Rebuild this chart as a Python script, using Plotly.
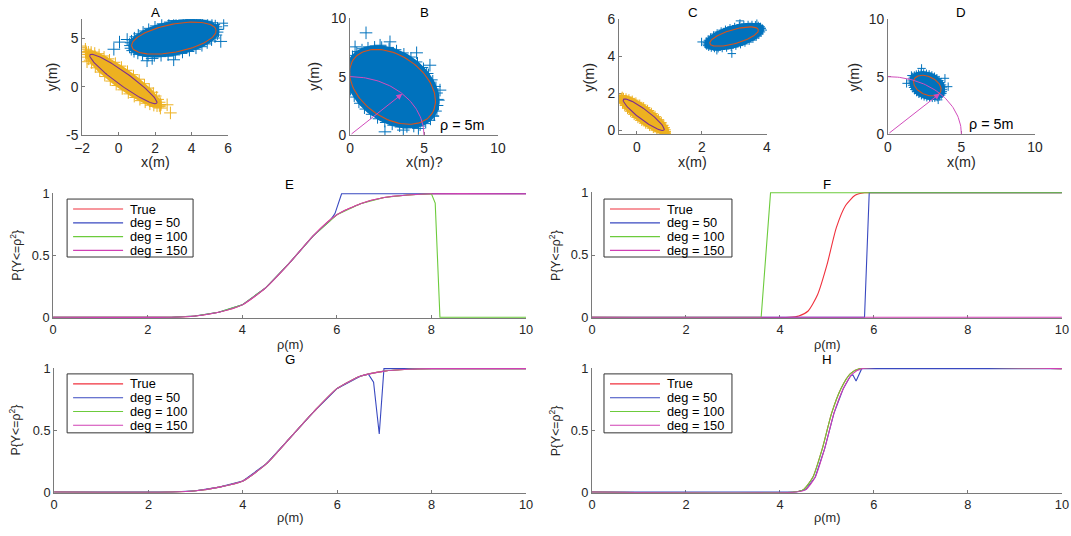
import numpy as np
import plotly.graph_objects as go

W, H = 1071, 536

# ---------------- CDF curves (rho in m -> P{Y<=rho^2}) ----------------
E_true_rho = [0, 2.5, 3.0, 3.5, 4.0, 4.5, 5.0, 5.5, 6.0, 6.5, 7.0, 7.5, 8.0, 10]
E_true_p   = [0, 0, 0.01, 0.04, 0.10, 0.24, 0.44, 0.66, 0.83, 0.92, 0.97, 0.99, 1.0, 1.0]
E_d50_rho  = [0, 2.5, 3.0, 3.5, 4.0, 4.5, 5.0, 5.5, 5.85, 5.96, 6.1, 10]
E_d50_p    = [0, 0, 0.01, 0.04, 0.10, 0.24, 0.44, 0.66, 0.78, 0.84, 1.0, 1.0]
E_d100_rho = [0, 2.5, 3.0, 3.5, 4.0, 4.5, 5.0, 5.5, 6.0, 6.5, 7.0, 7.5, 8.0, 8.08, 8.18, 10]
E_d100_p   = [0, 0, 0.01, 0.04, 0.10, 0.24, 0.44, 0.66, 0.83, 0.92, 0.97, 0.99, 1.0, 0.925, 0.0, 0.0]
E_d150_rho = [0, 2.5, 3.0, 3.5, 4.0, 4.5, 5.0, 5.5, 6.0, 6.5, 7.0, 7.5, 8.0, 10]
E_d150_p   = [0, 0, 0.01, 0.04, 0.10, 0.24, 0.44, 0.66, 0.83, 0.92, 0.97, 0.99, 1.0, 1.0]

F_true_rho = [0, 4.2, 4.4, 4.6, 4.8, 5.0, 5.2, 5.4, 5.6, 5.8, 5.9, 10]
F_true_p   = [0, 0, 0.01, 0.05, 0.18, 0.42, 0.72, 0.90, 0.98, 1.0, 1.0, 1.0]
F_d50_rho  = [0, 5.8, 5.9, 10]
F_d50_p    = [0, 0, 1.0, 1.0]
F_d100_rho = [0, 3.6, 3.8, 10]
F_d100_p   = [0, 0, 1.0, 1.0]
F_d150_rho = [0, 10]
F_d150_p   = [0, 0]

G_true_rho = [0, 2.5, 3.0, 3.5, 4.0, 4.5, 5.0, 5.5, 6.0, 6.5, 7.0, 7.5, 8.0, 10]
G_true_p   = [0, 0, 0.01, 0.04, 0.09, 0.23, 0.44, 0.65, 0.84, 0.94, 0.98, 0.995, 1.0, 1.0]
G_d50_rho  = [0, 2.5, 3.0, 3.5, 4.0, 4.5, 5.0, 5.5, 6.0, 6.5, 6.66, 6.77, 6.89, 6.99, 10]
G_d50_p    = [0, 0, 0.01, 0.04, 0.09, 0.23, 0.44, 0.65, 0.84, 0.94, 0.955, 0.89, 0.47, 1.0, 1.0]
G_d100_rho = [0, 2.5, 3.0, 3.5, 4.0, 4.5, 5.0, 5.5, 6.0, 6.5, 7.0, 7.5, 8.0, 10]
G_d100_p   = [0, 0, 0.01, 0.04, 0.09, 0.23, 0.44, 0.65, 0.84, 0.94, 0.98, 0.995, 1.0, 1.0]
G_d150_rho = [0, 2.5, 3.0, 3.5, 4.0, 4.5, 5.0, 5.5, 6.0, 6.5, 7.0, 7.5, 8.0, 10]
G_d150_p   = [0, 0, 0.01, 0.04, 0.09, 0.23, 0.44, 0.65, 0.84, 0.94, 0.98, 0.995, 1.0, 1.0]

H_true_rho = [0, 4.3, 4.5, 4.7, 4.9, 5.1, 5.3, 5.5, 5.7, 10]
H_true_p   = [0, 0, 0.02, 0.12, 0.35, 0.64, 0.84, 0.96, 1.0, 1.0]
H_d50_rho  = [0, 4.35, 4.55, 4.75, 4.95, 5.15, 5.35, 5.5, 5.55, 5.62, 5.74, 10]
H_d50_p    = [0, 0, 0.02, 0.12, 0.35, 0.64, 0.84, 0.94, 0.95, 0.90, 1.0, 1.0]
H_d100_rho = [0, 4.3, 4.5, 4.7, 4.9, 5.1, 5.3, 5.5, 5.7, 10]
H_d100_p   = [0, 0, 0.02, 0.12, 0.35, 0.64, 0.84, 0.96, 1.0, 1.0]
H_d150_rho = [0, 4.35, 4.55, 4.75, 4.95, 5.15, 5.35, 5.55, 5.75, 10]
H_d150_p   = [0, 0, 0.02, 0.12, 0.35, 0.64, 0.84, 0.96, 1.0, 1.0]

SERIES_NAMES = ["True", "deg = 50", "deg = 100", "deg = 150"]

# ---------------- position clouds (ellipse: center, half-axis vectors) ----------------
A_blue_center = [3.03, 5.04]; A_blue_u = [2.31, 0.86];  A_blue_v = [0.148, -1.42]
A_blue_env_u = [2.45, 0.91]; A_blue_env_v = [0.178, -1.70]
A_blue_out_x = [-0.26, 0.05, 0.47, 1.56, 1.84, 3.02, 6.13, 6.4, 5.76, 5.6, 4.48, 3.02]
A_blue_out_y = [3.89, 4.63, 4.9, 2.7, 2.94, 2.8, 6.32, 5.57, 6.59, 4.7, 7.09, 6.86]

A_yel_center = [0.26, 0.81]; A_yel_u = [1.83, -2.5]; A_yel_v = [-0.21, -0.54]
A_yel_env_u = [2.05, -2.8]; A_yel_env_v = [-0.31, -0.79]
A_yel_out_x = [-2.09, -1.82, -2.18, 2.66, 2.84, 2.29, 1.9, -1.73]
A_yel_out_y = [4.22, 3.89, 4.05, -1.86, -2.7, -2.2, -1.3, 2.6]

B_center = [2.87, 4.13]; B_u = [2.64, -2.34]; B_v = [-1.21, -2.19]
B_env_u = [2.82, -2.50]; B_env_v = [-1.36, -2.45]
B_out_x = [1.08, 2.36, 4.5, 5.18, 6.08, 5.97, 5.4, 0.34, 2.03, 2.7, 4.62, 3.6]
B_out_y = [8.75, 0.28, 7.04, 5.27, 3.85, 2.99, 5.98, 7.55, 7.69, 7.98, 0.57, 0.43]

C_blue_center = [2.99, 5.06]; C_blue_u = [0.745, 0.378]; C_blue_v = [0.06, -0.364]
C_blue_env_u = [0.887, 0.45]; C_blue_env_v = [0.09, -0.546]
C_blue_out_x = [1.99, 4.09, 3.17, 2.92, 2.46, 3.69]
C_blue_out_y = [4.77, 5.41, 5.91, 4.14, 4.32, 5.77]

C_yel_center = [0.21, 0.83]; C_yel_u = [0.625, -0.827]; C_yel_v = [-0.093, -0.216]
C_yel_env_u = [0.738, -0.976]; C_yel_env_v = [-0.149, -0.346]
C_yel_out_x = [-0.52, 0.92, -0.45, 0.75]
C_yel_out_y = [1.62, -0.18, 1.85, -0.1]

D_center = [2.68, 4.22]; D_u = [0.90, -0.54]; D_v = [-0.26, -0.72]
D_env_u = [1.11, -0.664]; D_env_v = [-0.356, -0.986]
D_out_x = [1.27, 4.1, 2.29, 3.42, 3.88, 1.6]
D_out_y = [4.42, 4.13, 5.72, 2.98, 4.86, 5.1]

RHO = 5.0          # radius of the reference circle (m)
ARROW_DEG = 45.0   # direction of the radius arrow

# ---------------- styles ----------------
FONT = "Liberation Sans, Arial, Helvetica, sans-serif"
BLUE = "#0072BD"; YEL = "#EDB120"; ORANGE = "#D95319"; PURPLE = "#7E2F8E"
MAG = "#D24DBC"
CURVE_COLORS = ["#F0303C", "#3848C0", "#6CCB3C", "#D040B4"]
AX_COLOR = "#7a7a7a"; TXT = "#262626"

# the photographed page maps figure pixel p to (p + 8) * scale; compensate
SX = 1087 / 1071
SY = 552 / 536
FS = 1.025  # font compensation for the slight downscale


def fs(v):
    return round(v * FS, 2)


def ellipse(c, u, v, n=120):
    t = np.linspace(0, 2 * np.pi, n)
    return (c[0] + u[0] * np.cos(t) + v[0] * np.sin(t),
            c[1] + u[1] * np.cos(t) + v[1] * np.sin(t))


def px2x(T):
    return (T * SX - 8) / W


def px2y(T):
    return 1 - (T * SY - 8) / H


fig = go.Figure()

# axis boxes in target pixels: (left, right, top, bottom)
boxes = {
    1: (82, 228, 19, 135), 2: (350, 498, 18, 135), 3: (619, 767, 19, 134), 4: (888, 1035, 19, 134),
    5: (53, 526, 193, 318), 6: (592, 1062, 192, 318), 7: (54, 526, 368, 493), 8: (592, 1062, 368, 493),
}


def axname(i, a):
    return a if i == 1 else f"{a}{i}"


def add_cloud(i, c, env_u, env_v, u, v, ox, oy, col, ecol, msize):
    xa, ya = axname(i, "x"), axname(i, "y")
    ex, ey = ellipse(c, env_u, env_v, 120)
    fig.add_trace(go.Scatter(x=ex, y=ey, mode="lines", fill="toself", fillcolor=col,
                             line=dict(color=col, width=1.5),
                             xaxis=xa, yaxis=ya, showlegend=False, hoverinfo="skip"))
    bx, by = ellipse(c, env_u, env_v, 40)
    fig.add_trace(go.Scatter(x=bx, y=by, mode="markers",
                             marker=dict(symbol="cross-thin", size=msize - 2, line=dict(color=col, width=1)),
                             xaxis=xa, yaxis=ya, showlegend=False, hoverinfo="skip"))
    fig.add_trace(go.Scatter(x=ox, y=oy, mode="markers",
                             marker=dict(symbol="cross-thin", size=msize, line=dict(color=col, width=1)),
                             xaxis=xa, yaxis=ya, showlegend=False, hoverinfo="skip"))
    lx, ly = ellipse(c, u, v)
    fig.add_trace(go.Scatter(x=lx, y=ly, mode="lines", line=dict(color=ecol, width=1.1),
                             xaxis=xa, yaxis=ya, showlegend=False, hoverinfo="skip"))


add_cloud(1, A_blue_center, A_blue_env_u, A_blue_env_v, A_blue_u, A_blue_v,
          A_blue_out_x, A_blue_out_y, BLUE, ORANGE, 9)
add_cloud(1, A_yel_center, A_yel_env_u, A_yel_env_v, A_yel_u, A_yel_v,
          A_yel_out_x, A_yel_out_y, YEL, PURPLE, 9)
add_cloud(2, B_center, B_env_u, B_env_v, B_u, B_v, B_out_x, B_out_y, BLUE, ORANGE, 9)
add_cloud(3, C_blue_center, C_blue_env_u, C_blue_env_v, C_blue_u, C_blue_v,
          C_blue_out_x, C_blue_out_y, BLUE, ORANGE, 6)
add_cloud(3, C_yel_center, C_yel_env_u, C_yel_env_v, C_yel_u, C_yel_v,
          C_yel_out_x, C_yel_out_y, YEL, PURPLE, 6)
add_cloud(4, D_center, D_env_u, D_env_v, D_u, D_v, D_out_x, D_out_y, BLUE, ORANGE, 6)

annotations = []
shapes = []
for i in (2, 4):
    xa, ya = axname(i, "x"), axname(i, "y")
    th = np.linspace(0, np.pi / 2, 60)
    fig.add_trace(go.Scatter(x=RHO * np.cos(th), y=RHO * np.sin(th), mode="lines",
                             line=dict(color=MAG, width=1), xaxis=xa, yaxis=ya,
                             showlegend=False, hoverinfo="skip"))
    tipx = RHO * np.cos(np.radians(ARROW_DEG))
    tipy = RHO * np.sin(np.radians(ARROW_DEG))
    annotations.append(dict(x=tipx, y=tipy, ax=0, ay=0, xref=xa, yref=ya, axref=xa, ayref=ya,
                            text="", showarrow=True, arrowhead=2, arrowsize=1.2, arrowwidth=1,
                            arrowcolor=MAG))
    annotations.append(dict(x=5.95 if i == 2 else 5.35, y=0.85, xref=xa, yref=ya, text="ρ = 5m",
                            showarrow=False, xanchor="left", yanchor="middle",
                            font=dict(family=FONT, size=fs(14), color="#000")))

curves = {
    5: [(E_true_rho, E_true_p), (E_d50_rho, E_d50_p), (E_d100_rho, E_d100_p), (E_d150_rho, E_d150_p)],
    6: [(F_true_rho, F_true_p), (F_d50_rho, F_d50_p), (F_d100_rho, F_d100_p), (F_d150_rho, F_d150_p)],
    7: [(G_true_rho, G_true_p), (G_d50_rho, G_d50_p), (G_d100_rho, G_d100_p), (G_d150_rho, G_d150_p)],
    8: [(H_true_rho, H_true_p), (H_d50_rho, H_d50_p), (H_d100_rho, H_d100_p), (H_d150_rho, H_d150_p)],
}
# curves that are smooth CDFs (no abrupt jumps) get a gentle spline rendering
smooth = {5: (0, 3), 6: (0,), 7: (0, 2, 3), 8: (0, 2, 3)}
for i in (5, 6, 7, 8):
    for j, (xs, ys) in enumerate(curves[i]):
        shape = "spline" if j in smooth[i] else "linear"
        line = dict(color=CURVE_COLORS[j], width=1.1, shape=shape)
        if shape == "spline":
            line["smoothing"] = 0.6
        fig.add_trace(go.Scatter(x=xs, y=ys, mode="lines", name=SERIES_NAMES[j], line=line,
                                 xaxis=axname(i, "x"), yaxis=axname(i, "y"), showlegend=False))

# legend boxes (left, top, right, bottom in target px) drawn like MATLAB's compact legends
legend_boxes = {5: (67, 199, 193, 257), 6: (604, 199, 732, 257),
                7: (67, 374, 193, 433), 8: (604, 374, 732, 433)}
for i, (l, t, r, b) in legend_boxes.items():
    shapes.append(dict(type="rect", xref="paper", yref="paper", x0=px2x(l), x1=px2x(r),
                       y0=px2y(b), y1=px2y(t), line=dict(color="#333", width=1), fillcolor="white",
                       layer="above"))
    for j, name in enumerate(SERIES_NAMES):
        yc = t + 10 + j * 13.8
        shapes.append(dict(type="line", xref="paper", yref="paper", x0=px2x(l + 6), x1=px2x(l + 56),
                           y0=px2y(yc), y1=px2y(yc), line=dict(color=CURVE_COLORS[j], width=1.1),
                           layer="above"))
        annotations.append(dict(x=px2x(l + 61), y=px2y(yc), xref="paper", yref="paper", text=name,
                                showarrow=False, xanchor="left", yanchor="middle",
                                font=dict(family=FONT, size=fs(12.5), color="#000")))

layout = dict(width=W, height=H, margin=dict(l=0, r=0, t=0, b=0),
              paper_bgcolor="white", plot_bgcolor="white",
              font=dict(family=FONT, color=TXT), showlegend=False)

ranges = {
    1: ([-2, 6], [-5, 7], [-2, 0, 2, 4, 6], [-5, 0, 5]),
    2: ([0, 10], [0, 10], [0, 5, 10], [0, 5, 10]),
    3: ([-0.55, 4], [-0.22, 6], [0, 2, 4], [0, 2, 4, 6]),
    4: ([0, 10], [0, 10], [0, 5, 10], [0, 5, 10]),
}
for i in range(5, 9):
    ranges[i] = ([0, 10], [-0.006, 1.006], [0, 2, 4, 6, 8, 10], [0, 0.5, 1])

for i, (l, r, t, b) in boxes.items():
    xr, yr, xt, yt = ranges[i]
    tsize = fs(13.5) if i <= 4 else fs(12.5)
    common = dict(showline=True, linecolor=AX_COLOR, linewidth=1, ticks="inside", ticklen=3,
                  tickcolor=AX_COLOR, showgrid=False, zeroline=False, mirror=False,
                  tickfont=dict(family=FONT, size=tsize, color=TXT), layer="below traces",
                  ticklabeloverflow="allow")
    xkey = "xaxis" if i == 1 else f"xaxis{i}"
    ykey = "yaxis" if i == 1 else f"yaxis{i}"
    layout[xkey] = dict(domain=[px2x(l), px2x(r)], range=xr, tickvals=xt,
                        anchor=axname(i, "y"), **common)
    layout[ykey] = dict(domain=[px2y(b), px2y(t)], range=yr, tickvals=yt,
                        ticktext=[("%g" % v) for v in yt],
                        anchor=axname(i, "x"), **common)

# titles & axis labels
titles = {1: "A", 2: "B", 3: "C", 4: "D", 5: "E", 6: "F", 7: "G", 8: "H"}
for i, (l, r, t, b) in boxes.items():
    cx = (l + r) / 2
    ty = 12 if i <= 4 else (184 if i in (5, 6) else 360)
    annotations.append(dict(x=px2x(cx), y=px2y(ty), xref="paper", yref="paper", text=titles[i],
                            showarrow=False, xanchor="center", yanchor="middle",
                            font=dict(family=FONT, size=fs(13), color="#000")))
    if i <= 4:
        xl = "x(m)?" if i == 2 else "x(m)"
        annotations.append(dict(x=px2x(cx), y=px2y(162), xref="paper", yref="paper", text=xl,
                                showarrow=False, xanchor="center", yanchor="middle",
                                font=dict(family=FONT, size=fs(14), color=TXT)))
        ylx = {1: 52, 2: 314, 3: 589, 4: 854}[i]
        annotations.append(dict(x=px2x(ylx), y=px2y((t + b) / 2), xref="paper", yref="paper",
                                text="y(m)", textangle=-90, showarrow=False,
                                xanchor="center", yanchor="middle",
                                font=dict(family=FONT, size=fs(14), color=TXT)))
    else:
        xly = 345 if i in (5, 6) else 518
        annotations.append(dict(x=px2x(cx), y=px2y(xly), xref="paper", yref="paper", text="ρ(m)",
                                showarrow=False, xanchor="center", yanchor="middle",
                                font=dict(family=FONT, size=fs(12.5), color=TXT)))
        ylx = 15 if i in (5, 7) else 555
        annotations.append(dict(x=px2x(ylx), y=px2y((t + b) / 2), xref="paper", yref="paper",
                                text="P{Y<=ρ<sup>2</sup>}", textangle=-90, showarrow=False,
                                xanchor="center", yanchor="middle",
                                font=dict(family=FONT, size=fs(12), color=TXT)))

layout["annotations"] = annotations
layout["shapes"] = shapes
fig.update_layout(**layout)
fig.write_html(
    "out.html",
    config={"displayModeBar": False, "responsive": False},
    post_script=("document.documentElement.style.margin='0';document.documentElement.style.padding='0';"
                 "document.documentElement.style.overflow='hidden';"
                 "document.body.style.margin='0';document.body.style.padding='0';"
                 "document.body.style.overflow='hidden';"),
)
